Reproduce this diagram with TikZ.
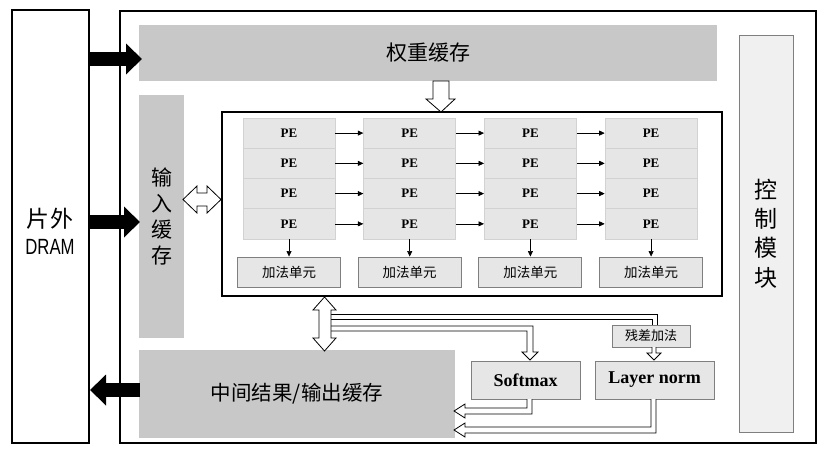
\documentclass[tikz,border=0pt]{standalone}
\usepackage{fontspec}
\setmainfont{Liberation Serif}
\newfontfamily\cjk{Noto Sans CJK SC}
\newfontfamily\dramfont{Liberation Sans}
\usetikzlibrary{arrows.meta}
\definecolor{bufgray}{HTML}{C8C8C8}
\definecolor{pegray}{HTML}{E6E6E6}
\definecolor{peedge}{HTML}{D2D2D2}
\definecolor{boxedge}{HTML}{7F7F7F}
\definecolor{ctrlgray}{HTML}{F0F0F0}
\begin{document}
\begin{tikzpicture}[x=1pt,y=-1pt,
  bigbox/.style={draw=black, line width=2.2pt, inner sep=0pt},
  buffer/.style={fill=bufgray, draw=none, inner sep=0pt, align=center},
  pe/.style={fill=pegray, draw=peedge, line width=0.8pt, inner sep=0pt,
    minimum width=92pt, minimum height=30.25pt, font=\bfseries\fontsize{13}{14}\selectfont},
  adder/.style={fill=pegray, draw=boxedge, line width=0.9pt, inner sep=0pt,
    minimum width=103pt, minimum height=30pt, font=\cjk\fontsize{13.5}{15}\selectfont},
  fn/.style={fill=pegray, draw=boxedge, line width=0.9pt, inner sep=0pt,
    minimum height=38pt, font=\bfseries\fontsize{18}{20}\selectfont},
  fat/.style={line width=14pt, -{Triangle[length=16pt 0, width=30pt 0]}},
  thinarr/.style={line width=0.6pt, -{Triangle[length=5.5pt 0, width=5pt 0]}},
  hollow/.style={draw=black, fill=white, line width=0.8pt, line join=miter},
  hline/.style={draw=black, line width=0.8pt, line join=miter},
]
\useasboundingbox (0,0) rectangle (829,450);

% big frames
\node[bigbox, minimum width=77pt, minimum height=433pt] (dram) at (50.5,226.5) {};
\node[align=center, font=\cjk\fontsize{23}{27}\selectfont] (dramtxt) at (50,231)
  {片外\\{\dramfont\fontsize{22}{27}\selectfont\scalebox{0.76}[1]{DRAM}}};
\node[bigbox, minimum width=696pt, minimum height=432pt] (chip) at (468,227) {};

% buffers
\node[buffer, minimum width=578pt, minimum height=56pt,
  font=\cjk\fontsize{21}{24}\selectfont] (wbuf) at (428,53) {权重缓存};
\node[buffer, minimum width=45pt, minimum height=243pt,
  font=\cjk\fontsize{21}{25.7}\selectfont] (ibuf) at (161.5,216.5) {输\\入\\缓\\存};
\node[buffer, minimum width=316pt, minimum height=88pt,
  font=\cjk\fontsize{20.5}{24}\selectfont] (obuf) at (297,394) {中间结果/输出缓存};

% control module
\node[fill=ctrlgray, draw=boxedge, line width=1pt, minimum width=54pt, minimum height=397pt,
  inner sep=0pt, align=center, font=\cjk\fontsize{23}{29.3}\selectfont] (ctrl) at (766,233.5)
  {控\\制\\模\\块};

% PE array frame
\node[bigbox, line width=2.4pt, minimum width=500pt, minimum height=184pt] (pebox) at (472,204) {};

% PE grid
\foreach \c in {0,...,3}{
  \foreach \r in {0,...,3}{
    \node[pe] (pe\c\r) at ({289+120.7*\c},{133.1+30.25*\r}) {PE};
  }
  \node[adder] (add\c) at ({289+120.7*\c},272) {加法单元};
  \draw[thinarr] (pe\c3.south) -- (add\c.north);
}
\foreach \c in {0,1,2}{
  \pgfmathtruncatemacro{\nxt}{\c+1}
  \foreach \r in {0,...,3}{
    \draw[thinarr] (pe\c\r.east) -- (pe\nxt\r.west);
  }
}

% function units
\node[fill=pegray, draw=boxedge, line width=0.9pt, inner sep=0pt, minimum width=78pt,
  minimum height=22pt, font=\cjk\fontsize{13}{15}\selectfont] (res) at (651,336) {残差加法};
\node[fn, minimum width=109pt] (softmax) at (525.5,380) {Softmax};
\node[fn, minimum width=119pt] (lnorm) at (654.5,380) {Layer norm};

% fat black arrows DRAM <-> buffers
\coordinate (w1) at (89,59);  \coordinate (w2) at (142,59);
\coordinate (i1) at (89,222); \coordinate (i2) at (140,222);
\coordinate (o1) at (140,390); \coordinate (o2) at (90,390);
\draw[fat] (w1) -- (w2);
\draw[fat] (i1) -- (i2);
\draw[fat] (o1) -- (o2);

% hollow arrow weight buffer -> PE array
\draw[hollow] (433,81) -- (449,81) -- (449,99) -- (455,99) -- (441,112) -- (426,99) -- (433,99) -- cycle;

% hollow double arrow input buffer <-> PE array
\draw[hollow] (183,199.5) -- (197,186) -- (197,193) -- (207,193) -- (207,186) -- (221,199.5)
  -- (207,213) -- (207,206) -- (197,206) -- (197,213) -- cycle;

% branch to residual add
\draw[hline] (331,314) -- (657,314) -- (657,325);
\draw[hline] (331,319) -- (652,319) -- (652,325);
% branch to softmax
\draw[hollow] (331,326) -- (533,326) -- (533,352) -- (538,352) -- (530,360) -- (522,352)
  -- (527,352) -- (527,331) -- (331,331);

% hollow double arrow PE array <-> output buffer
\draw[hollow] (324.5,297) -- (336,310) -- (331,310) -- (331,338) -- (336,338) -- (324.5,351)
  -- (313,338) -- (319,338) -- (319,310) -- (313,310) -- cycle;

% residual -> layer norm
\draw[hollow] (652,347) -- (652,353) -- (647,353) -- (654,360) -- (661,353) -- (656,353) -- (656,347);

% softmax -> output buffer
\draw[hollow] (532,399) -- (532,414) -- (465,414) -- (465,418) -- (454,411) -- (465,404)
  -- (465,408) -- (527,408) -- (527,399);
% layer norm -> output buffer
\draw[hollow] (656,399) -- (656,433) -- (465,433) -- (465,437) -- (454,430) -- (465,423)
  -- (465,427) -- (651,427) -- (651,399);
\end{tikzpicture}
\end{document}
